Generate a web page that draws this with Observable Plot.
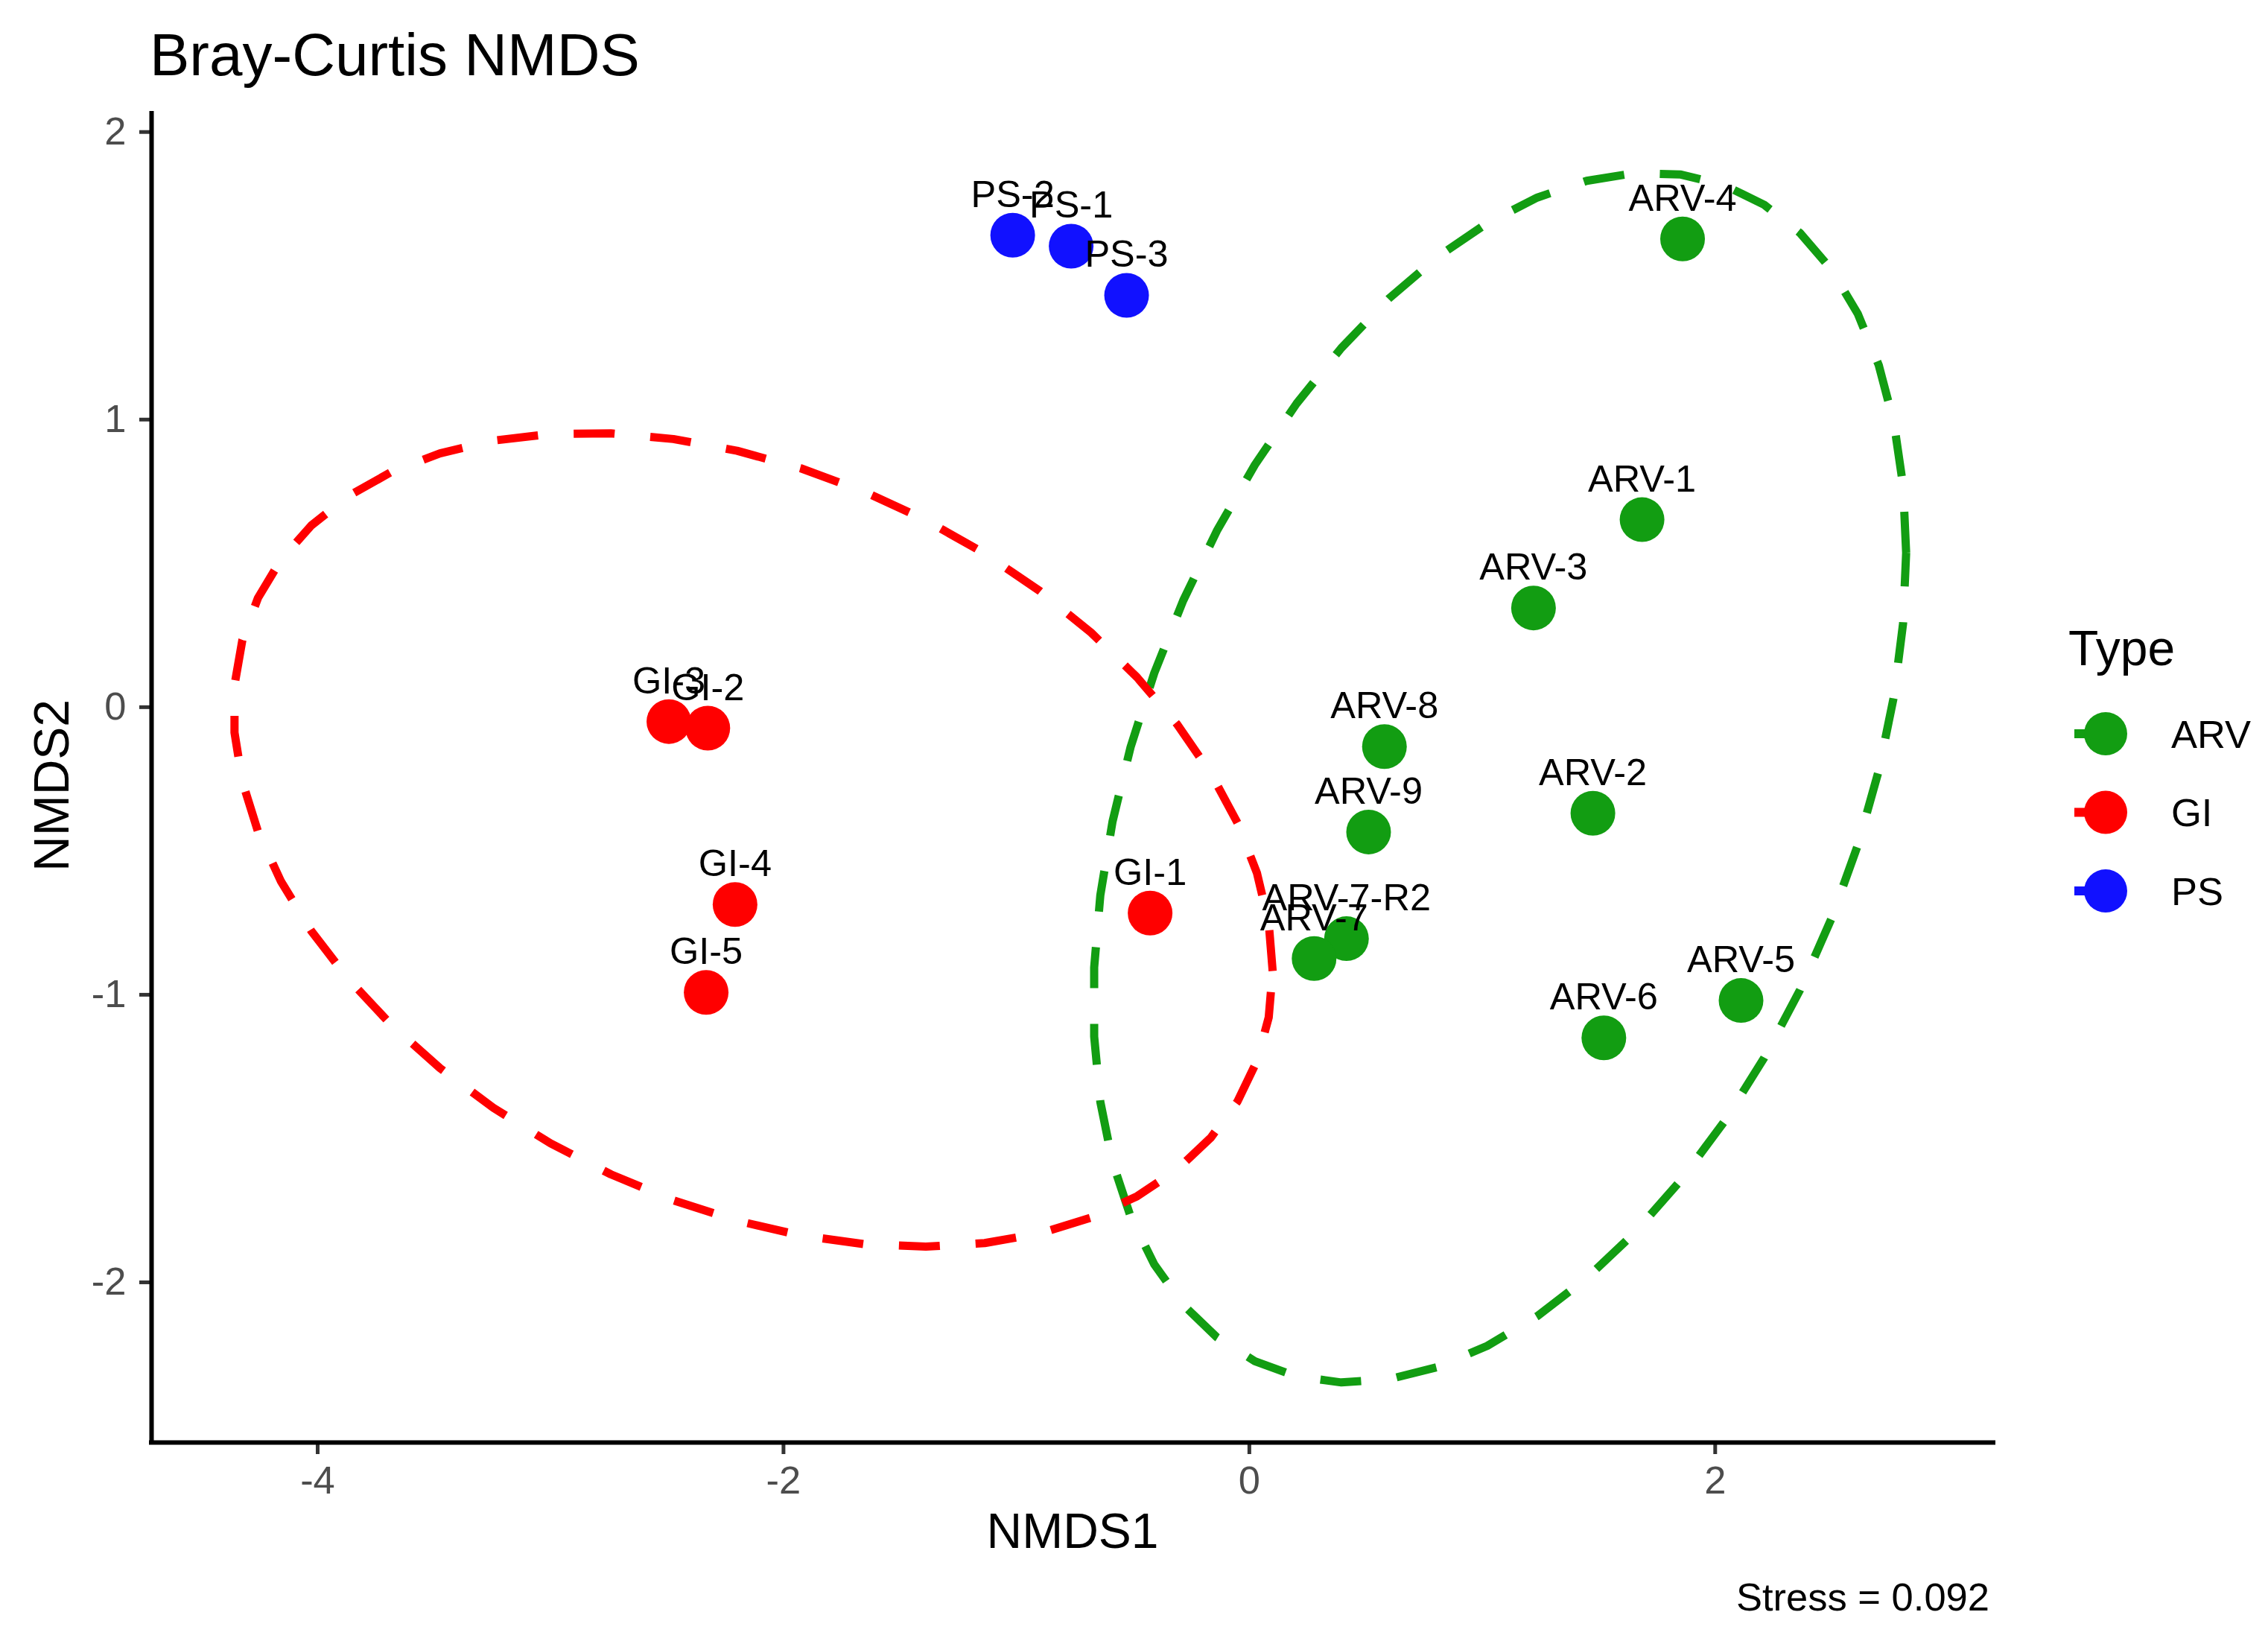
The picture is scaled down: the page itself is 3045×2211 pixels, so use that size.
<!DOCTYPE html>
<html>
<head>
<meta charset="utf-8">
<script src="https://cdn.jsdelivr.net/npm/d3@7"></script>
<script src="https://cdn.jsdelivr.net/npm/@observablehq/plot@0.6"></script>
<style>
  html, body { margin: 0; padding: 0; background: #ffffff; }
  #wrap { position: relative; width: 3045px; height: 2211px; overflow: hidden;
          font-family: "Liberation Sans", Arial, Helvetica, sans-serif; background: #fff; }
  #title { position: absolute; left: 201px; top: 34px; font-size: 80px; line-height: 1; color: #000; white-space: nowrap; }
  #caption { position: absolute; right: 374px; top: 2118px; font-size: 52.5px; line-height: 1; color: #000; white-space: nowrap; }
  #plot { position: absolute; left: 0; top: 0; }
  #legend { position: absolute; left: 2700px; top: 800px; }
</style>
</head>
<body>
<div id="wrap">
  <div id="plot"></div>
  <div id="title">Bray-Curtis NMDS</div>
  <div id="legend"></div>
  <div id="caption">Stress = 0.092</div>
</div>
<script>
// ---------------- data ----------------
const samples = ["ARV-1","ARV-2","ARV-3","ARV-4","ARV-5","ARV-6","ARV-7-R2","ARV-7","ARV-8","ARV-9",
                 "GI-1","GI-3","GI-2","GI-4","GI-5","PS-2","PS-1","PS-3"];
const types   = ["ARV","ARV","ARV","ARV","ARV","ARV","ARV","ARV","ARV","ARV",
                 "GI","GI","GI","GI","GI","PS","PS","PS"];
const nmds1   = [1.686, 1.475, 1.220, 1.860, 2.111, 1.522, 0.417, 0.278, 0.580, 0.512,
                 -0.426, -2.492, -2.325, -2.208, -2.332, -1.016, -0.765, -0.527];
const nmds2   = [0.652, -0.369, 0.345, 1.628, -1.020, -1.150, -0.805, -0.874, -0.137, -0.434,
                 -0.716, -0.050, -0.073, -0.686, -0.992, 1.641, 1.603, 1.432];

const typeDomain = ["ARV", "GI", "PS"];
const typeColors = ["#129D12", "#FF0000", "#1111FF"];
const ellipseTypes = ["ARV", "GI"];   // groups with a 95% t-ellipse
const ellipseLevel = 0.95;

const xTicks = [-4, -2, 0, 2];
const yTicks = [-2, -1, 0, 1, 2];
const xDomain = [-4.713, 3.195];
const yDomain = [-2.557, 2.064];
const xLabel = "NMDS1";
const yLabel = "NMDS2";
const legendTitle = "Type";

// ---------------- table ----------------
const points = samples.map((s, i) => ({sample: s, type: types[i], x: nmds1[i], y: nmds2[i]}));

// robust multivariate-t covariance (as MASS::cov.trob, used by ggplot2 stat_ellipse type "t")
function covTrob(pts, nu = 5, maxit = 25, tol = 0.01) {
  const n = pts.length, p = 2;
  let loc = [d3.mean(pts, d => d[0]), d3.mean(pts, d => d[1])];
  let w = new Array(n).fill(1);
  let X = null;
  for (let iter = 0; iter < maxit; iter++) {
    const w0 = w.slice();
    X = pts.map(d => [d[0] - loc[0], d[1] - loc[1]]);
    const sw = d3.sum(w);
    let a = 0, b = 0, c = 0;
    for (let i = 0; i < n; i++) {
      a += w[i] * X[i][0] * X[i][0] / sw;
      b += w[i] * X[i][0] * X[i][1] / sw;
      c += w[i] * X[i][1] * X[i][1] / sw;
    }
    const det = a * c - b * b;
    const Q = X.map(([u, v]) => (c * u * u - 2 * b * u * v + a * v * v) / det);
    w = Q.map(q => (nu + p) / (nu + q));
    const sw2 = d3.sum(w);
    loc = [d3.sum(pts, (d, i) => w[i] * d[0]) / sw2, d3.sum(pts, (d, i) => w[i] * d[1]) / sw2];
    if (w.every((wi, i) => Math.abs(wi - w0[i]) < tol)) break;
  }
  let s11 = 0, s12 = 0, s22 = 0;
  for (let i = 0; i < n; i++) {
    s11 += w[i] * X[i][0] * X[i][0];
    s12 += w[i] * X[i][0] * X[i][1];
    s22 += w[i] * X[i][1] * X[i][1];
  }
  return {center: loc, cov: [s11 / n, s12 / n, s22 / n]};
}

function ellipsePath(pts, level, segments = 51) {
  const {center, cov} = covTrob(pts);
  const dfd = pts.length - 1;
  const q = dfd / 2 * (Math.pow(1 - level, -2 / dfd) - 1); // qf(level, 2, dfd)
  const radius = Math.sqrt(2 * q);
  const a = Math.sqrt(cov[0]);
  const b = cov[1] / a;
  const c = Math.sqrt(cov[2] - b * b);
  return d3.range(segments + 1).map(k => {
    const t = k * 2 * Math.PI / segments;
    return [center[0] + radius * a * Math.cos(t), center[1] + radius * (b * Math.cos(t) + c * Math.sin(t))];
  });
}

const ellipses = ellipseTypes.flatMap(t => {
  const pts = points.filter(d => d.type === t).map(d => [d.x, d.y]);
  return ellipsePath(pts, ellipseLevel).map(([x, y]) => ({type: t, x, y}));
});

// ---------------- plot ----------------
const W = 3045, H = 2211;
const chart = Plot.plot({
  width: W,
  height: H,
  marginTop: 152,
  marginBottom: 275,
  marginLeft: 203,
  marginRight: 369,
  style: {fontFamily: '"Liberation Sans", Arial, Helvetica, sans-serif', background: "transparent", overflow: "visible"},
  x: {domain: xDomain},
  y: {domain: yDomain},
  color: {domain: typeDomain, range: typeColors},
  marks: [
    Plot.axisX({ticks: xTicks, tickFormat: d => String(d), tickSize: 16, tickPadding: 15,
                fontSize: 52.5, stroke: "#333333", fill: "#4D4D4D", strokeWidth: 5, label: null}),
    Plot.axisY({ticks: yTicks, tickFormat: d => String(d), tickSize: 16, tickPadding: 18,
                fontSize: 52.5, stroke: "#333333", fill: "#4D4D4D", strokeWidth: 5, label: null}),
    Plot.ruleY([yDomain[0]], {stroke: "#000", strokeWidth: 6, strokeLinecap: "square"}),
    Plot.ruleX([xDomain[0]], {stroke: "#000", strokeWidth: 6, strokeLinecap: "square"}),
    Plot.dot(points, {x: "x", y: "y", r: 30, fill: "type"}),
    Plot.line(ellipses, {x: "x", y: "y", z: "type", stroke: "type", strokeWidth: 11,
                         strokeDasharray: "55,48", strokeLinecap: "butt", curve: "linear"}),
    Plot.text(points, {x: "x", y: "y", text: "sample", dy: -38, lineAnchor: "bottom",
                       fontSize: 50.5, fill: "#000"}),
    Plot.text([xLabel], {text: d => d, frameAnchor: "bottom", dy: 141, lineAnchor: "bottom",
                         textAnchor: "middle", fontSize: 66, fill: "#000"}),
    Plot.text([yLabel], {text: d => d, frameAnchor: "left", dx: -112, dy: 10, rotate: -90,
                         textAnchor: "middle", lineAnchor: "bottom", fontSize: 66, fill: "#000"})
  ]
});
document.getElementById("plot").appendChild(chart);

// ---------------- legend ----------------
const leg = d3.select("#legend").append("svg")
  .attr("width", 345).attr("height", 450)
  .style("font-family", '"Liberation Sans", Arial, Helvetica, sans-serif');
leg.append("text").attr("x", 77).attr("y", 93).attr("font-size", 66).attr("fill", "#000").text(legendTitle);
const items = leg.selectAll("g.item").data(typeDomain).join("g")
  .attr("class", "item")
  .attr("transform", (d, i) => `translate(0,${185 + i * 105.5})`);
items.append("line").attr("x1", 85).attr("x2", 127).attr("y1", 0).attr("y2", 0)
  .attr("stroke", (d, i) => typeColors[i]).attr("stroke-width", 12);
items.append("circle").attr("cx", 127).attr("cy", 0).attr("r", 29)
  .attr("fill", (d, i) => typeColors[i]);
items.append("text").attr("x", 215).attr("y", 0).attr("dominant-baseline", "central")
  .attr("font-size", 52.5).attr("fill", "#000").text(d => d);
</script>
</body>
</html>
